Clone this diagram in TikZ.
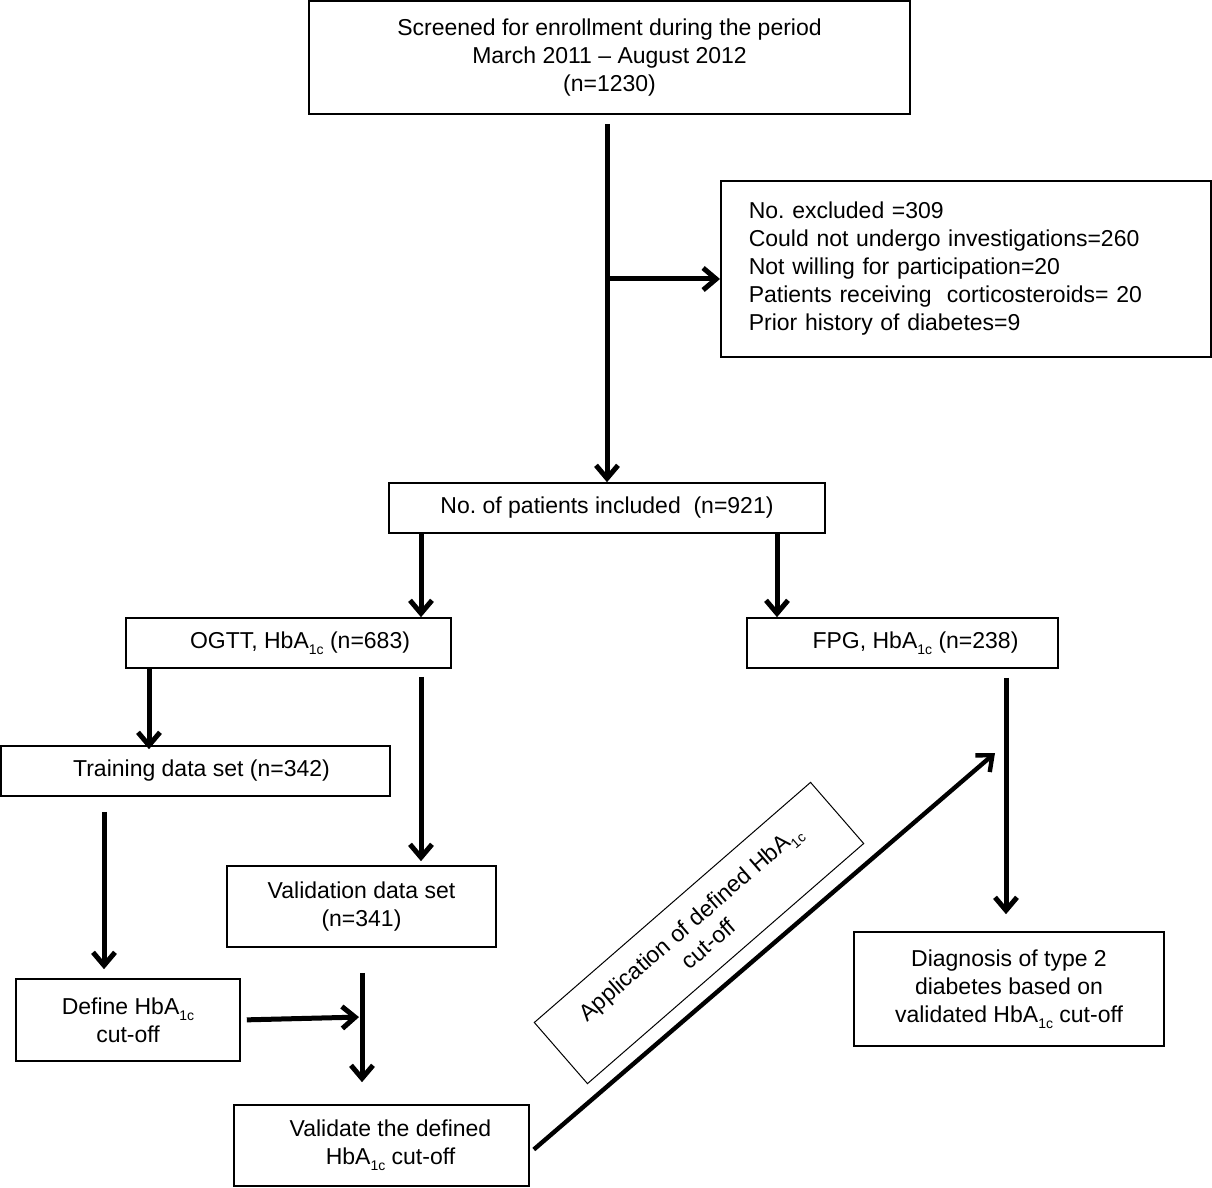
\documentclass[tikz,border=0pt]{standalone}
\usepackage{fontspec}
\setmainfont{Liberation Sans}
\usetikzlibrary{arrows.meta}
\frenchspacing
\tikzset{box/.style={draw, line width=0.8pt, inner sep=2pt, align=center, font=\fontsize{11.5}{14}\selectfont},
  flow/.style={line width=2.5pt, -{Straight Barb[length=6.5pt,width=11pt]}}}
\newcommand{\hba}{HbA\raisebox{-3pt}{\fontsize{7}{7}\selectfont 1c}}

\begin{document}
\begin{tikzpicture}[x=0.5pt, y=-0.5pt]
  \useasboundingbox (0,0) rectangle (1212,1188);
  \node[box, minimum width=300.5pt, minimum height=56.5pt] (screen) at (609.5,57.5)
    {Screened for enrollment during the period\\March 2011 -- August 2012\\(n=1230)};
  \node[box, anchor=west, align=left, text width=217pt, inner xsep=14pt, minimum height=88pt] (excl) at (720,269)
    {No. excluded =309\\Could not undergo investigations=260\\Not willing for participation=20\\
     Patients receiving~ corticosteroids= 20\\Prior history of diabetes=9\\[6pt]};
  \node[box, minimum width=218pt, minimum height=25pt] (incl) at (607,508) {No. of patients included~ (n=921)};
  \node[box, minimum width=162.5pt, minimum height=25pt] (ogtt) at (288.5,643) {\hspace*{11.5pt}OGTT, \hba{} (n=683)};
  \node[box, minimum width=155.5pt, minimum height=25pt] (fpg) at (902.5,643) {\hspace*{13pt}FPG, \hba{} (n=238)};
  \node[box, minimum width=194.5pt, minimum height=25pt] (train) at (195.5,771) {\hspace*{6pt}Training data set (n=342)};
  \node[box, minimum width=134.5pt, minimum height=40.5pt] (valid) at (361.5,906.5) {Validation data set\\(n=341)};
  \node[box, minimum width=112pt, minimum height=41pt] (define) at (128,1020) {Define \hba\\cut-off};
  \node[box, minimum width=147.5pt, minimum height=40.5pt] (check) at (381.5,1145.5)
    {\hspace*{9pt}Validate the defined\\\hspace*{9pt}\hba{} cut-off};
  \node[box, minimum width=155pt, minimum height=57pt] (diag) at (1009,989)
    {Diagnosis of type 2\\diabetes based on\\validated \hba{} cut-off};
  \node[box, line width=0.5pt, rotate=41, minimum width=183pt, minimum height=40.5pt] (appl) at (699,933)
    {Application of defined \hba\\cut-off};

  \coordinate (cA) at (421,0);
  \coordinate (cB) at (777,0);
  \coordinate (cC) at (149,0);
  \coordinate (cD) at (104,0);
  \coordinate (cE) at (362,0);
  \coordinate (cF) at (1006,0);
  \coordinate (j) at (607,279);
  \coordinate (k) at (362,1017);
  \coordinate (m) at (995,753);

  \draw[flow, shorten <=4.5pt] (screen.south -| incl.north) -- (incl.north);
  \draw[flow] (j) -- (j -| excl.west);
  \draw[flow] (incl.south -| cA) -- (ogtt.north -| cA);
  \draw[flow] (incl.south -| cB) -- (fpg.north -| cB);
  \draw[flow, shorten >=-2pt] (ogtt.south -| cC) -- (train.north -| cC);
  \draw[flow, shorten <=4pt, shorten >=2pt] (ogtt.south -| cA) -- (valid.north -| cA);
  \draw[flow, shorten <=7.5pt, shorten >=4.5pt] (train.south -| cD) -- (define.north -| cD);
  \draw[flow, shorten <=12.5pt, shorten >=11pt] (valid.south -| cE) -- (check.north -| cE);
  \draw[flow, shorten <=3pt, shorten >=1.5pt] (define.east) -- (k);
  \draw[flow, line width=2.2pt] ([xshift=2pt,yshift=-2pt]check.east) -- (m);
  \draw[flow, shorten <=4.5pt, shorten >=8.5pt] (fpg.south -| cF) -- (diag.north -| cF);
\end{tikzpicture}
\end{document}
